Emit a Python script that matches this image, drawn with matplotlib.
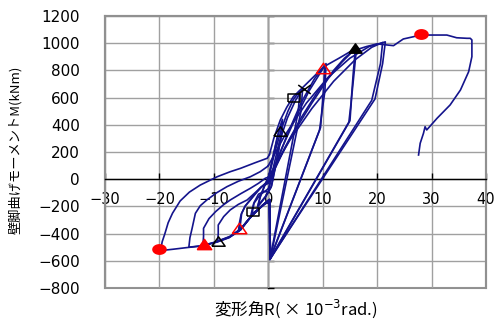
import numpy as np
import matplotlib
matplotlib.use("Agg")
import matplotlib.pyplot as plt
from matplotlib.path import Path

plt.rcParams['font.family'] = ['DejaVu Sans', 'Noto Sans CJK JP']

# wall base moment M (kNm) against drift angle R (x10^-3 rad), one array pair per loading stage
r1 = [0.0, 0.8, 1.7, 2.5, 2.3, 1.4, 0.5, -0.5, -1.3, -2.0, -1.5, -0.6, 0.0]
m1 = [0, 160, 320, 425, 300, 110, -60, -130, -170, -205, -130, -40, 10]

r2 = [0.0, 0.9, 1.8, 2.6, 2.4, 1.5, 0.6, -0.4, -1.2, -1.9, -1.4, -0.5, 0.1]
m2 = [10, 170, 330, 440, 320, 130, -50, -120, -160, -195, -120, -30, 20]

r3 = [0.1, 1.2, 2.5, 3.6, 4.6, 5.8, 5.5, 0.3, 0.3, -0.5, -1.5, -3.0, -2.6, -1.8, -0.8, 0.0]
m3 = [20, 200, 380, 500, 585, 650, 500, -590, -150, -175, -210, -255, -170, -110, -90, -95]

r4 = [0.0, 1.0, 2.0, 3.5, 5.0, 6.3, 6.0, 0.4, 0.2, -1.0, -2.2, -3.2, -2.7, -1.5, 0.0]
m4 = [-95, 100, 270, 450, 580, 665, 500, -580, -160, -195, -235, -265, -180, -115, -70]

r5 = [0.0, 1.5, 3.5, 6.0, 8.5, 10.4, 10.2, 9.6, 0.3, 0.2, -1.0, -2.0, -3.3, -4.4,
      -5.3, -5.1, -4.9, -4.2, -3.3, -2.2, -1.2, 0.0]
m5 = [-70, 120, 330, 560, 740, 840, 700, 380, -590, -150, -190, -230, -280, -335,
      -375, -320, -251, -195, -153, -100, -55, -20]

r6 = [0.0, 2.5, 5.0, 7.5, 10.6, 10.4, 9.4, 0.4, 0.2, -1.0, -2.1, -3.4, -4.6, -5.5,
      -5.3, -5.0, -4.3, -3.5, -2.4, -1.4, 0.0]
m6 = [-20, 230, 450, 650, 850, 650, 360, -575, -150, -190, -232, -285, -345, -385,
      -320, -260, -200, -160, -105, -60, -30]

r7 = [0.0, 3.0, 6.0, 9.0, 12.0, 14.0, 16.2, 15.8, 15.3, 15.0, 0.3, 0.2, -1.0, -2.1,
      -3.3, -5.1, -7.0, -9.3, -9.2, -9.2, -8.2, -7.0, -5.5, -3.9, -2.3, -0.9, 0.0]
m7 = [-30, 230, 450, 640, 800, 890, 965, 800, 600, 430, -590, -150, -190, -230,
      -280, -365, -420, -455, -400, -337, -275, -226, -185, -153, -95, -43, -10]

r8 = [0.0, 4.0, 8.0, 11.0, 13.5, 16.0, 15.6, 15.2, 14.8, 0.4, 0.2, -1.0, -2.1,
      -3.4, -5.1, -7.2, -9.4, -12.0, -11.9, -11.9, -10.9, -9.7, -8.3, -7.0, -5.0, -3.3,
      -1.8, -0.55, 0.0]
m8 = [-10, 300, 560, 740, 860, 960, 780, 560, 420, -580, -150, -190, -232,
      -285, -370, -425, -458, -487, -420, -361, -290, -239, -190, -153, -105, -67,
      -30, 7, 15]

r9 = [0.0, 4.0, 8.0, 12.0, 16.0, 19.0, 21.0, 20.6, 19.0, 0.3, 0.2, -1.0, -2.1,
      -3.4, -5.1, -7.2, -9.4, -12.0, -14.6, -14.4, -14.0, -13.4, -12.5, -11.3, -9.5, -7.6,
      -5.5, -3.3, -1.5, -0.2, 0.0]
m9 = [15, 290, 520, 720, 880, 970, 1005, 850, 580, -590, -150, -190, -232,
      -285, -372, -428, -460, -488, -500, -430, -361, -251, -195, -153, -100, -55,
      -15, 18, 55, 92, 100]

r10 = [0.0, 3.0, 7.0, 11.0, 15.0, 18.5, 21.5, 21.0, 19.6, 0.4, 0.2, -1.0, -2.1,
       -3.4, -5.1, -7.2, -9.4, -12.0, -15.0, -17.5, -19.8, -19.5, -19.0, -18.4, -17.6,
       -16.2, -14.5, -12.5, -9.4, -7.0, -5.1, -2.5, -0.2, 0.2]
m10 = [100, 320, 560, 750, 890, 975, 1010, 850, 590, -580, -150, -190, -232,
       -287, -373, -430, -462, -490, -503, -515, -525, -460, -400, -320, -250,
       -160, -95, -43, 18, 55, 80, 120, 154, 180]

r11 = [0.2, 1.0, 2.2, 3.4, 4.6, 7.1, 10.2, 13.0, 15.0, 18.0, 20.0, 21.8, 23.0, 24.8, 26.7,
       27.9, 29.4, 32.8, 34.6, 36.5, 37.1, 37.4, 37.4, 36.8, 35.3, 33.4, 31.0, 29.1, 28.8,
       28.5, 27.9, 27.6]
m11 = [180, 300, 435, 530, 607, 705, 827, 890, 937, 975, 995, 987, 982, 1031, 1048,
       1062, 1060, 1060, 1040, 1036, 1036, 1024, 901, 790, 656, 546, 448, 362, 386,
       337, 264, 178]

# event markers
circ_r = [28.0, -20.0]
circ_m = [1065, -511]
tri_red_r = [-11.8]
tri_red_m = [-479]
tri_blk_r = [16.0]
tri_blk_m = [965]
tri_open_blk_r = [2.1, -9.3]
tri_open_blk_m = [354, -452]
tri_open_red_r = [10.0, -5.3]
tri_open_red_m = [820, -360]
sq_r = [4.7, -2.9]
sq_m = [599, -239]
x_r = [6.5]
x_m = [661]

xticks = [-30, -20, -10, 0, 10, 20, 30, 40]
yticks = [-800, -600, -400, -200, 0, 200, 400, 600, 800, 1000, 1200]

# marker shapes, a little wider than tall
t = np.linspace(0, 2 * np.pi, 40)
ellipse = list(zip(1.4 * np.cos(t), np.sin(t)))
tri = [(-1.4, -1.0), (1.4, -1.0), (0.0, 1.0), (-1.4, -1.0)]
rect = [(-1.4, -1.0), (1.4, -1.0), (1.4, 1.0), (-1.4, 1.0), (-1.4, -1.0)]
cross = Path([(-1.4, -1.0), (1.4, 1.0), (-1.4, 1.0), (1.4, -1.0)],
             [Path.MOVETO, Path.LINETO, Path.MOVETO, Path.LINETO])

fig = plt.figure(figsize=(4.94, 3.2), dpi=100)
ax = fig.add_axes([0.2126, 0.1, 0.7713, 0.85])
ax.set_xlim(-30, 40)
ax.set_ylim(-800, 1200)
ax.set_xticks(xticks)
ax.set_yticks(yticks)
ax.grid(color='#a0a0a0', lw=1.0)
ax.set_axisbelow(True)

for s in ['left', 'right', 'top']:
    ax.spines[s].set_color('#909090')
    ax.spines[s].set_linewidth(1.5)
ax.patch.set_edgecolor('#909090')
ax.patch.set_linewidth(1.5)
ax.spines['bottom'].set_position(('data', 0))
ax.spines['bottom'].set_color('black')
ax.spines['bottom'].set_linewidth(1.0)
ax.tick_params(axis='x', direction='in', length=4, width=1, pad=9, labelsize=10.5)
ax.tick_params(axis='y', length=0, pad=18, labelsize=11)

# vertical zero axis
sec = ax.secondary_yaxis(30 / 70)
sec.set_yticks(yticks)
sec.set_yticklabels([])
sec.tick_params(direction='in', length=4, width=1)
sec.spines['left'].set_color('black')
sec.spines['left'].set_linewidth(1.0)

line_c = '#14148c'
for r, m in [(r1, m1), (r2, m2), (r3, m3), (r4, m4), (r5, m5), (r6, m6),
             (r7, m7), (r8, m8), (r9, m9), (r10, m10), (r11, m11)]:
    ax.plot(r, m, color=line_c, lw=1.2, zorder=3)

ax.plot(circ_r, circ_m, ls='none', marker=ellipse, ms=9.5, color='red', mec='red', zorder=4)
ax.plot(tri_red_r, tri_red_m, ls='none', marker=tri, ms=10.5, color='red', mec='red', zorder=4)
ax.plot(tri_blk_r, tri_blk_m, ls='none', marker=tri, ms=9.5, color='black', zorder=4)
ax.plot(tri_open_blk_r, tri_open_blk_m, ls='none', marker=tri, ms=9.5, mfc='none',
        mec='black', mew=1.1, zorder=4)
ax.plot(tri_open_red_r, tri_open_red_m, ls='none', marker=tri, ms=10.5, mfc='none',
        mec='red', mew=1.1, zorder=4)
ax.plot(sq_r, sq_m, ls='none', marker=rect, ms=9, mfc='none', mec='black', mew=1.1, zorder=4)
ax.plot(x_r, x_m, ls='none', marker=cross, ms=9, mec='black', mew=1.1, zorder=4)

fig.text(0.598, 1 - 309 / 320, '変形角R( × 10$^{-3}$rad.)', ha='center', va='center',
         fontsize=12, family=['Noto Sans CJK JP', 'DejaVu Sans'])
fig.text(15 / 494, 1 - 150 / 320, '壁脚曲げモーメントM(kNm)', rotation=90, ha='center',
         va='center', fontsize=9.5, family=['Noto Sans CJK JP', 'DejaVu Sans'])

fig.savefig('out.png', dpi=100)
